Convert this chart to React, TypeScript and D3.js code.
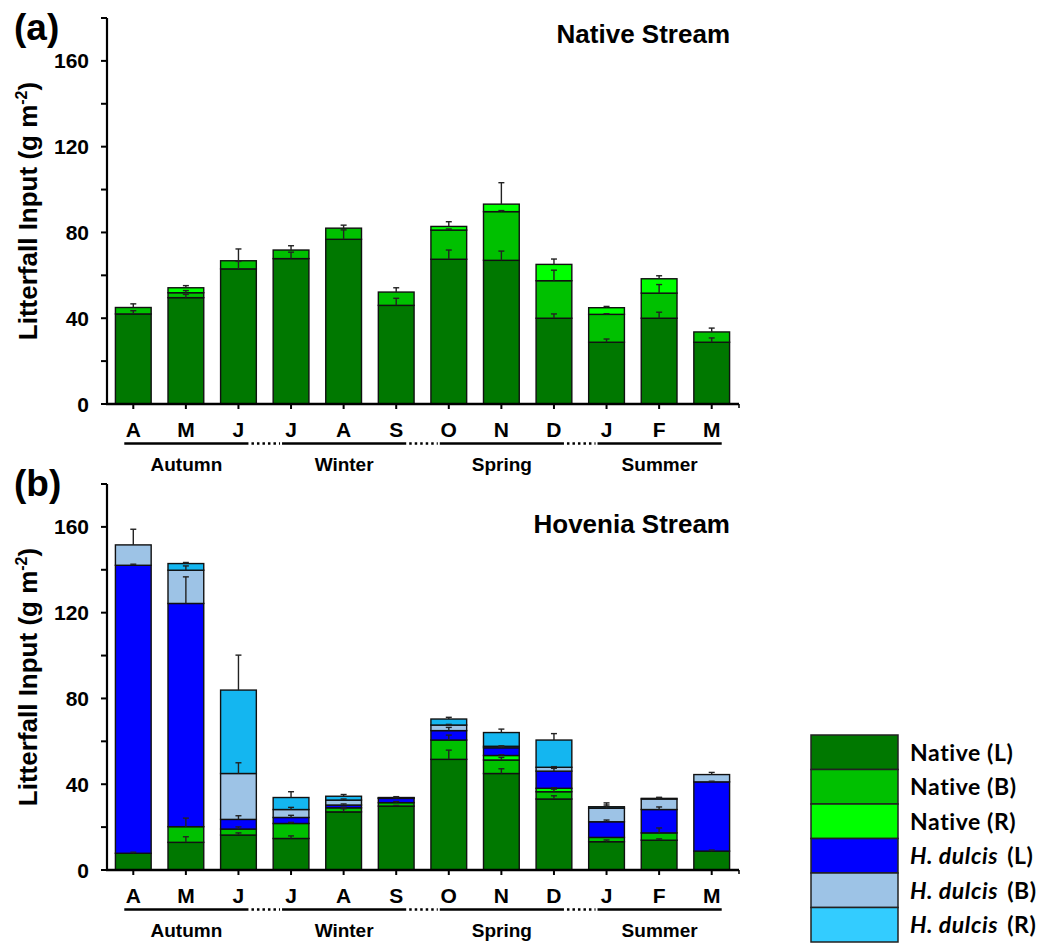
import React from 'react';
import * as d3 from 'd3';

// month ticks (Apr -> Mar) and the seasons they fall in
const months = ['A', 'M', 'J', 'J', 'A', 'S', 'O', 'N', 'D', 'J', 'F', 'M'];
const seasons = ['Autumn', 'Winter', 'Spring', 'Summer'];
const yTicks = [0, 20, 40, 60, 80, 100, 120, 140, 160, 180];
const yLabels = [0, 40, 80, 120, 160];

// (a) Native stream, g m-2
const natLa = [42, 49.6, 63, 67.8, 76.8, 46, 67.5, 67, 40, 28.8, 40, 28.8];
const natBa = [3, 2.3, 3.8, 4, 5.2, 6.2, 13.6, 22.7, 17.5, 13, 11.7, 4.8];
const natRa = [0, 2.3, 0, 0, 0, 0, 1.7, 3.5, 7.6, 3.1, 6.7, 0];
const natLaErr = [1.5, 1.5, 3.5, 3, 4.4, 3.3, 4.3, 4.3, 2, 1.5, 2.8, 2];
const natBaErr = [1.7, 1, 5.5, 2, 1.4, 2, 0.5, 0.5, 4.9, 0.3, 4, 1.8];
const natRaErr = [0, 1, 0, 0, 0, 0, 2.2, 10, 2.5, 0.6, 1.4, 0];

// (b) Hovenia stream, g m-2
const natLb = [7.8, 12.9, 16.3, 14.7, 27.1, 29.8, 51.6, 45, 33.1, 13.2, 13.9, 8.8];
const natBb = [0, 7.3, 2.8, 7, 1.9, 1.6, 9, 6.3, 3.4, 2, 3.4, 0];
const natRb = [0, 0, 0, 0, 0, 0, 0, 2.1, 1.6, 0, 0, 0];
const hovLb = [134.3, 104.1, 4.5, 2.8, 1.3, 2, 4.4, 3.6, 8, 7.3, 10.9, 32.3];
const hovBb = [9.5, 15.5, 21.4, 3.7, 2.3, 0.2, 2.6, 0.7, 1.8, 6.3, 4.9, 3.4];
const hovRb = [0, 3.1, 38.9, 5.6, 1.8, 0.2, 2.8, 6.4, 12.7, 0.7, 0.3, 0];
const natLbErr = [0.5, 2.6, 1, 1.2, 1.5, 0.3, 4.3, 2.2, 1.5, 0.8, 0.6, 0.5];
const natBbErr = [0, 4, 1, 0.5, 0.3, 0.5, 2.3, 1.2, 1.2, 0, 2.3, 0];
const natRbErr = [0, 0, 0, 0, 0, 0, 0, 0.3, 0.3, 0, 0, 0];
const hovLbErr = [0.5, 12.4, 1.7, 1, 0.5, 0.3, 1.5, 0.5, 1.3, 0.8, 1.2, 0.3];
const hovBbErr = [7.3, 2, 5, 1, 0.5, 0, 0.3, 0.2, 0.3, 1.5, 0.5, 1];
const hovRbErr = [0, 0.5, 16.3, 2.7, 0.8, 0.4, 0.8, 1.6, 3, 1.8, 0.5, 0];

const legendNames = ['Native', 'Native', 'Native', 'H. dulcis', 'H. dulcis', 'H. dulcis'];
const legendParts = ['(L)', '(B)', '(R)', '(L)', '(B)', '(R)'];
const colors = ['#007800', '#00c000', '#00ff00', '#0000ff', '#9dc3e6', '#14b6f0'];
const legendColors = ['#007800', '#00c000', '#00ff00', '#0000ff', '#9dc3e6', '#33ccff'];

type Series = { vals: number[]; err: number[]; color: string };

const FONT = 'Liberation Sans, Arial, sans-serif';

const Panel = ({ y0, series, title, tag, titleY, tagY }:
  { y0: number; series: Series[]; title: string; tag: string; titleY: number; tagY: number }) => {
  const x = d3.scaleBand<number>()
    .domain(months.map((_, i) => i))
    .range([107, 738])
    .paddingInner(0.32)
    .paddingOuter(0.16);
  const y = d3.scaleLinear().domain([0, 180]).range([y0, y0 - 386]);
  const bw = x.bandwidth();
  const cx = (i: number) => (x(i) as number) + bw / 2;

  // stack the series month by month
  const rows = months.map((_, i) => {
    let base = 0;
    return series.map(s => {
      const seg = { y0: base, y1: base + s.vals[i], err: s.err[i], color: s.color };
      base += s.vals[i];
      return seg;
    });
  });

  return (
    <g>
      <text x={14} y={tagY} fontFamily={FONT} fontWeight="bold" fontSize={37}>{tag}</text>
      <text x={730} y={titleY} textAnchor="end" fontFamily={FONT} fontWeight="bold" fontSize={26}>{title}</text>

      {/* y axis */}
      <line x1={107} x2={107} y1={y(180)} y2={y(0)} stroke="#000" strokeWidth={2.2} />
      {yTicks.map(t => (
        <line key={t} x1={101} x2={107} y1={y(t)} y2={y(t)} stroke="#000" strokeWidth={2} />
      ))}
      {yLabels.map(t => (
        <text key={t} x={89} y={y(t)} dy="0.36em" textAnchor="end" fontFamily={FONT} fontWeight="bold" fontSize={21}>{t}</text>
      ))}
      <text transform={`translate(37,${y(90)}) rotate(-90)`} textAnchor="middle" fontFamily={FONT} fontWeight="bold" fontSize={26}>
        Litterfall Input (g m<tspan dy={-10} fontSize={16}>-2</tspan><tspan dy={10}>)</tspan>
      </text>

      {/* bars */}
      {rows.map((segs, i) => (
        <g key={i}>
          {segs.filter(s => s.y1 > s.y0).map((s, k) => (
            <rect key={k} x={x(i)} width={bw} y={y(s.y1)} height={y(s.y0) - y(s.y1)}
              fill={s.color} stroke="#111" strokeWidth={1.4} />
          ))}
          {segs.filter(s => s.y1 > s.y0 && s.err > 0).map((s, k) => (
            <g key={'e' + k} stroke="#222" strokeWidth={1.4}>
              <line x1={cx(i)} x2={cx(i)} y1={y(s.y1)} y2={y(s.y1 + s.err)} />
              <line x1={cx(i) - 3} x2={cx(i) + 3} y1={y(s.y1 + s.err)} y2={y(s.y1 + s.err)} />
            </g>
          ))}
        </g>
      ))}

      {/* x axis */}
      <line x1={106} x2={739} y1={y0} y2={y0} stroke="#000" strokeWidth={2.4} />
      <line x1={739} x2={739} y1={y0} y2={y0 + 4} stroke="#000" strokeWidth={1.5} />
      {months.map((m, i) => (
        <g key={i}>
          <line x1={cx(i)} x2={cx(i)} y1={y0} y2={y0 + 5} stroke="#000" strokeWidth={2} />
          <text x={cx(i)} y={y0 + 33} textAnchor="middle" fontFamily={FONT} fontWeight="bold" fontSize={21}>{m}</text>
        </g>
      ))}

      {/* season brackets */}
      {seasons.map((s, k) => {
        const a = cx(k * 3) - 9;
        const b = cx(k * 3 + 2) + 10;
        const next = k < 3 ? cx(k * 3 + 3) - 9 : b;
        return (
          <g key={s}>
            <line x1={a} x2={b} y1={y0 + 39.5} y2={y0 + 39.5} stroke="#000" strokeWidth={2.4} />
            {k < 3 && (
              <line x1={b + 3} x2={next - 2} y1={y0 + 39.5} y2={y0 + 39.5} stroke="#000" strokeWidth={2.4} strokeDasharray="2.5,3" />
            )}
            <text x={(a + b) / 2} y={y0 + 67} textAnchor="middle" fontFamily={FONT} fontWeight="bold" fontSize={19}>{s}</text>
          </g>
        );
      })}
    </g>
  );
};

const Legend = () => {
  const ly = d3.scaleBand<number>().domain(d3.range(6)).range([735, 942]);
  return (
    <g>
      {legendColors.map((c, i) => (
        <g key={i}>
          <rect x={811} y={ly(i)} width={87} height={ly.bandwidth()} fill={c} stroke="#222" strokeWidth={1.5} />
          <text x={910} y={(ly(i) as number) + ly.bandwidth() / 2} dy="0.36em" fontFamily="Lato, sans-serif" fontWeight="bold" fontSize={23} letterSpacing={0.6}>
            <tspan fontStyle={i >= 3 ? 'italic' : 'normal'}>{legendNames[i]}</tspan>
            <tspan dx={i >= 3 ? 9 : 6}>{legendParts[i]}</tspan>
          </text>
        </g>
      ))}
    </g>
  );
};

export default function App() {
  const panelA: Series[] = [
    { vals: natLa, err: natLaErr, color: colors[0] },
    { vals: natBa, err: natBaErr, color: colors[1] },
    { vals: natRa, err: natRaErr, color: colors[2] },
  ];
  const panelB: Series[] = [
    { vals: natLb, err: natLbErr, color: colors[0] },
    { vals: natBb, err: natBbErr, color: colors[1] },
    { vals: natRb, err: natRbErr, color: colors[2] },
    { vals: hovLb, err: hovLbErr, color: colors[3] },
    { vals: hovBb, err: hovBbErr, color: colors[4] },
    { vals: hovRb, err: hovRbErr, color: colors[5] },
  ];
  return (
    <svg width={1051} height={947} style={{ position: 'absolute', left: 0, top: 0, background: '#fff' }}>
      <Panel y0={404} series={panelA} title="Native Stream" tag="(a)" titleY={43} tagY={40} />
      <Panel y0={870} series={panelB} title="Hovenia Stream" tag="(b)" titleY={533} tagY={496} />
      <Legend />
    </svg>
  );
}
